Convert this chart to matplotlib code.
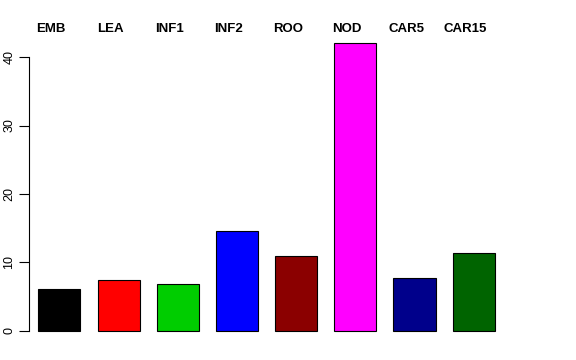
import matplotlib
matplotlib.use("Agg")
import matplotlib.pyplot as plt
import matplotlib.transforms as mtransforms

categories = ["EMB", "LEA", "INF1", "INF2", "ROO", "NOD", "CAR5", "CAR15"]
values = [6.2, 7.5, 6.9, 14.6, 10.9, 42.1, 7.7, 11.4]
colors = ["#000000", "#FF0000", "#00CD00", "#0000FF", "#8B0000", "#FF00FF", "#00008B", "#006400"]
yticks = [0, 10, 20, 30, 40]

plt.rcParams['font.family'] = ['Liberation Sans', 'DejaVu Sans']

fig = plt.figure(figsize=(5.76, 3.6), dpi=100)
ax = fig.add_axes([0.0509, 0.0486, 0.8236, 0.865])

x = list(range(len(categories)))
ax.bar(x, values, width=0.71, color=colors, edgecolor="black", linewidth=0.8)

ax.set_xlim(-0.507, 7.507)
ymax = max(values)
ax.set_ylim(-0.04 * ymax, ymax * 1.04)

for s in ["top", "right", "bottom"]:
    ax.spines[s].set_visible(False)
ax.spines["left"].set_bounds(0, 40)
ax.spines["left"].set_linewidth(0.8)
ax.set_xticks([])
ax.set_yticks(yticks)
ax.set_yticklabels([str(t) for t in yticks], rotation=90, va="center", fontsize=9)
ax.tick_params(axis="y", length=7, width=0.8, pad=3)

trans = mtransforms.blended_transform_factory(ax.transData, fig.transFigure)
for i, c in enumerate(categories):
    ax.text(i - 0.14, 1 - 29.3 / 360, c, transform=trans, ha="center", va="center",
            fontsize=9.5, fontweight="bold", clip_on=False)

fig.savefig("out.png", dpi=100)
